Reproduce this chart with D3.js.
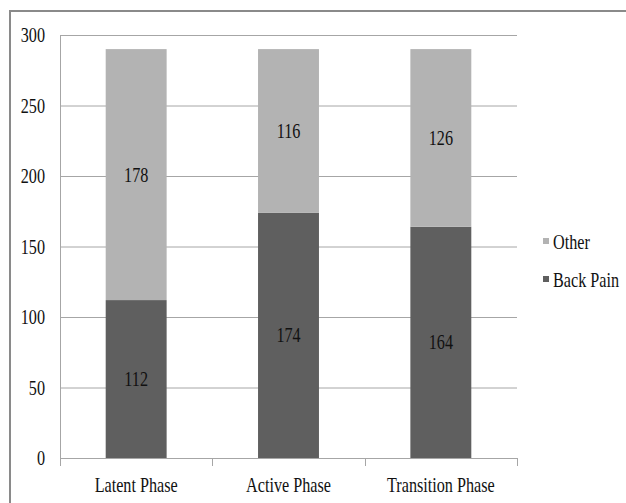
<!DOCTYPE html>
<html><head><meta charset="utf-8">
<script src="https://cdn.jsdelivr.net/npm/d3@7/dist/d3.min.js"></script>
<style>html,body{margin:0;padding:0;background:#fff;}svg{display:block;}
svg text{font-family:"Liberation Serif","Times New Roman","DejaVu Serif",serif;}</style>
</head><body>
<svg id="c" width="626" height="503"></svg>
<script>
const categories = ["Latent Phase", "Active Phase", "Transition Phase"];
const backPain = [112, 174, 164];
const other = [178, 116, 126];
const seriesNames = ["Other", "Back Pain"];
const yTicks = [0, 50, 100, 150, 200, 250, 300];

const colors = {"Back Pain": "#5f5f5f", "Other": "#b3b3b3"};
const FS = 21, SX = 0.77;

const svg = d3.select("#c");
svg.append("rect").attr("x", 10).attr("y", 11).attr("width", 700).attr("height", 600)
  .attr("fill", "none").attr("stroke", "#8a8a8a").attr("stroke-width", 2);

const L = 60, R = 517, T = 35, B = 458;
const x = d3.scaleBand().domain(categories).range([L, R]).padding(0);
const y = d3.scaleLinear().domain([0, 300]).range([B, T]);
const barW = x.bandwidth() * 0.4;

const data = categories.map((c, i) => ({cat: c, "Back Pain": backPain[i], "Other": other[i]}));
const stack = d3.stack().keys(["Back Pain", "Other"])(data);

function txt(g, s, tx, ty, anchor) {
  return g.append("text").attr("transform", `translate(${tx},${ty}) scale(${SX},1)`)
    .attr("text-anchor", anchor).style("font-size", FS + "px")
    .attr("fill", "#111").text(s);
}

svg.append("g").selectAll("line").data(yTicks.filter(d => d > 0)).join("line")
  .attr("x1", L).attr("x2", R).attr("y1", d => y(d) + 0.5).attr("y2", d => y(d) + 0.5)
  .attr("stroke", "#a6a6a6").attr("stroke-width", 1);

const ya = svg.append("g").attr("transform", `translate(${L},0)`)
  .call(d3.axisLeft(y).tickValues(yTicks).tickSize(0).tickFormat(""));
ya.select(".domain").attr("stroke", "#a6a6a6").attr("d", `M0.5,${T}V${B}`);
yTicks.forEach(v => txt(svg, String(v), 45, y(v) + 7, "end"));

svg.append("g").selectAll("g").data(stack).join("g")
  .attr("fill", d => colors[d.key])
  .selectAll("rect").data(d => d).join("rect")
  .attr("x", d => x(d.data.cat) + (x.bandwidth() - barW) / 2)
  .attr("width", barW)
  .attr("y", d => y(d[1]))
  .attr("height", d => y(d[0]) - y(d[1]));

stack.forEach(s => s.forEach(d => {
  txt(svg, String(d[1] - d[0]), x(d.data.cat) + x.bandwidth() / 2, y((d[0] + d[1]) / 2) + 7, "middle");
}));

const xa = svg.append("g").attr("transform", `translate(0,${B})`)
  .call(d3.axisBottom(x).tickSize(0).tickFormat(""));
xa.select(".domain").attr("stroke", "#a6a6a6").attr("d", `M${L},0.5H${R}`);
const bounds = [L].concat(categories.map(c => x(c) + x.bandwidth()));
svg.append("g").selectAll("line").data(bounds).join("line")
  .attr("x1", d => Math.round(d) + 0.5).attr("x2", d => Math.round(d) + 0.5)
  .attr("y1", B).attr("y2", B + 8).attr("stroke", "#a6a6a6");
categories.forEach(c => txt(svg, c, x(c) + x.bandwidth() / 2, 492, "middle"));

seriesNames.forEach((n, i) => {
  const ly = 241 + i * 38;
  svg.append("rect").attr("x", 543).attr("y", ly - 3).attr("width", 6).attr("height", 6).attr("fill", colors[n]);
  txt(svg, n, 553, ly + 8, "start");
});
</script>
</body></html>
